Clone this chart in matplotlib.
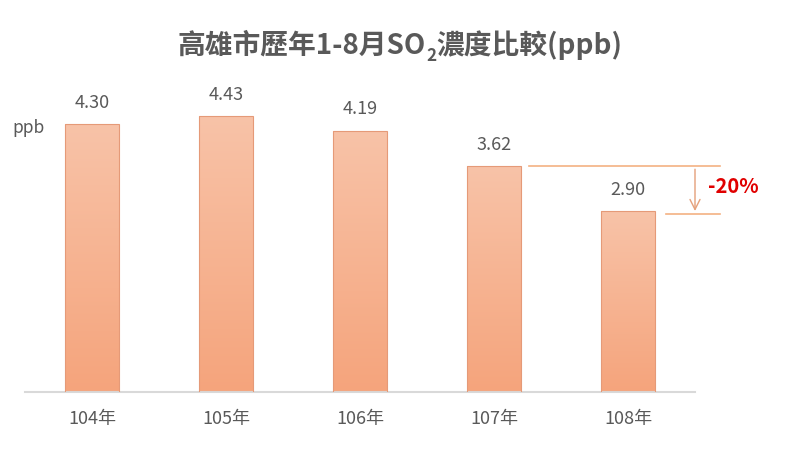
import matplotlib
matplotlib.use("Agg")
import matplotlib.pyplot as plt
import numpy as np
from matplotlib.colors import LinearSegmentedColormap

plt.rcParams['font.family'] = ['Noto Sans CJK TC', 'DejaVu Sans']

categories = ['104年', '105年', '106年', '107年', '108年']
values = [4.30, 4.43, 4.19, 3.62, 2.90]
title_parts = ['高雄市歷年1-8月SO', '2', '濃度比較(ppb)']
unit = 'ppb'
change_label = '-20%'

fig = plt.figure(figsize=(8, 4.49), dpi=100)
ax = fig.add_axes([0.03125, 0.127, 0.8375, 0.6938])
x = np.arange(len(categories))
bars = ax.bar(x, values, width=0.4, color='none', edgecolor='#E59A78', linewidth=0.8, zorder=3)

cmap = LinearSegmentedColormap.from_list('g', ['#F5A47C', '#F8C3A8'])
grad = np.linspace(0, 1, 256).reshape(-1, 1)
for b in bars:
    x0, y0 = b.get_x(), b.get_y()
    w, h = b.get_width(), b.get_height()
    im = ax.imshow(grad, cmap=cmap, aspect='auto', origin='lower',
                   extent=[x0, x0 + w, y0, y0 + h], zorder=2)
    im.set_clip_path(b)

ax.set_xlim(-0.5, 4.5)
ax.set_ylim(0, 5)
for s in ['top', 'right', 'left']:
    ax.spines[s].set_visible(False)
ax.spines['bottom'].set_color('#D9D9D9')
ax.spines['bottom'].set_linewidth(1.5)
ax.set_yticks([])
ax.set_xticks(x)
ax.set_xticklabels(categories, fontsize=13, color='#595959')
ax.tick_params(axis='x', length=0, pad=13)

for xi, v in zip(x, values):
    ax.text(xi, v + 0.2, f'{v:.2f}', ha='center', va='bottom', fontsize=13, color='#595959')

fig.text(12 / 800, 1 - 128 / 449, unit, fontsize=12.5, color='#595959', va='center', ha='left')

# title in pieces with real subscript
renderer = fig.canvas.get_renderer()
tsize = 20
tcol = '#595959'
ty = 1 - 54 / 449
pieces = [(title_parts[0], tsize, 0), (title_parts[1], tsize * 0.62, -7), (title_parts[2], tsize, 0)]
widths = []
for txt, fs, dy in pieces:
    t = fig.text(0, 0, txt, fontsize=fs, fontweight='bold')
    widths.append(t.get_window_extent(renderer).width)
    t.remove()
total = sum(widths)
cur = 400 - total / 2
for (txt, fs, dy), w in zip(pieces, widths):
    fig.text(cur / 800, ty + dy / 449, txt, fontsize=fs, color=tcol, ha='left', va='baseline',
             fontweight='bold')
    cur += w

# annotation
lc = '#F4B183'
ax.plot([3.26, 4.69], [values[3], values[3]], color=lc, lw=1.2, clip_on=False)
ax.plot([4.28, 4.69], [values[4] - 0.04, values[4] - 0.04], color=lc, lw=1.2, clip_on=False)
ax.annotate('', xy=(4.5, values[4] - 0.04), xytext=(4.5, values[3]),
            arrowprops=dict(arrowstyle='->', color='#E5A07A', lw=1.0, mutation_scale=18),
            annotation_clip=False)
ax.text(4.60, 3.29, change_label, color='#E00000', fontsize=14.5, fontweight='bold', va='center', ha='left')

fig.savefig('out.png', dpi=100)
